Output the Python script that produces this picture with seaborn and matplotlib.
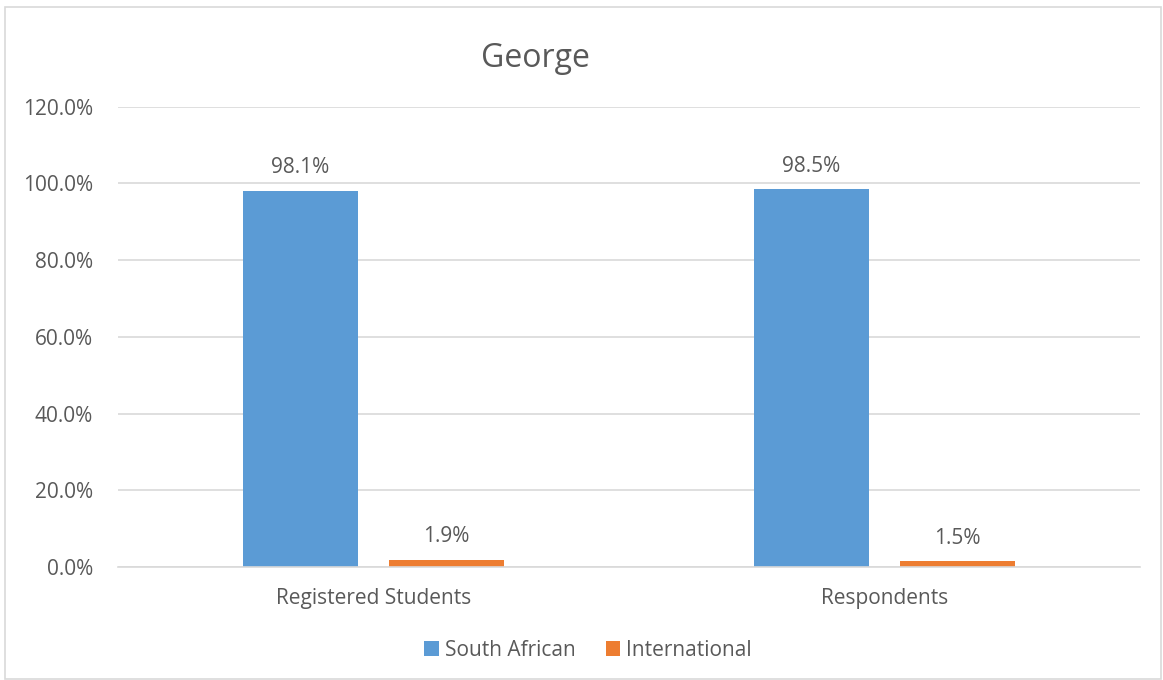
import pandas as pd
import matplotlib.pyplot as plt
import seaborn as sns
from matplotlib.patches import Rectangle

# Data
categories = ["Registered Students", "Respondents"]
groups = ["South African", "International"]
south_african = [0.981, 0.985]
international = [0.019, 0.015]

colors = ["#5B9BD5", "#ED7D31"]
text_color = "#595959"
grid_color = "#D9D9D9"

sns.set_theme(style="white")
plt.rcParams['font.family'] = ['Open Sans', 'DejaVu Sans']

df = pd.DataFrame({
    "Category": categories * 2,
    "Group": [groups[0]] * 2 + [groups[1]] * 2,
    "Value": south_african + international,
})

fig = plt.figure(figsize=(11.63, 6.80), dpi=100)
ax = fig.add_axes([0.1015, 0.166, 0.8785, 0.677])

sns.barplot(data=df, x="Category", y="Value", hue="Group", palette=colors,
            width=0.571, gap=0.212, saturation=1, linewidth=0, ax=ax)

ax.set_ylim(0, 1.2)
ax.set_xlim(-0.5, 1.5)
ax.set_yticks([0, 0.2, 0.4, 0.6, 0.8, 1.0, 1.2])
ax.set_yticklabels([f"{v * 100:.1f}%" for v in ax.get_yticks()])
ax.yaxis.grid(True, color=grid_color, linewidth=1.2)
ax.set_axisbelow(True)
for s in ["left", "right", "top"]:
    ax.spines[s].set_visible(False)
ax.spines["bottom"].set_color(grid_color)
ax.spines["bottom"].set_linewidth(1.2)
ax.tick_params(axis="both", length=0, labelsize=15, labelcolor=text_color)
ax.tick_params(axis="x", pad=15)
ax.tick_params(axis="y", pad=18)
ax.set_xlabel("")
ax.set_ylabel("")

# Data labels
for container in ax.containers:
    ax.bar_label(container, labels=[f"{b.get_height() * 100:.1f}%" for b in container],
                 padding=9, fontsize=15, color=text_color)

fig.text(0.46, 0.9015, "George", ha="center", va="baseline", fontsize=23, color=text_color)

handles, labels = ax.get_legend_handles_labels()
ax.legend_.remove()
fig.legend(handles, labels, loc="center", bbox_to_anchor=(0.5056, 0.044), ncol=2,
           frameon=False, fontsize=15, handlelength=0.7, handleheight=0.7,
           handletextpad=0.29, columnspacing=1.44, labelcolor=text_color)

# Light border around the chart
fig.patches.append(Rectangle((0.004, 0.002), 0.994, 0.987, transform=fig.transFigure,
                             fill=False, edgecolor=grid_color, linewidth=1.2))

fig.savefig("out.png", dpi=100)
